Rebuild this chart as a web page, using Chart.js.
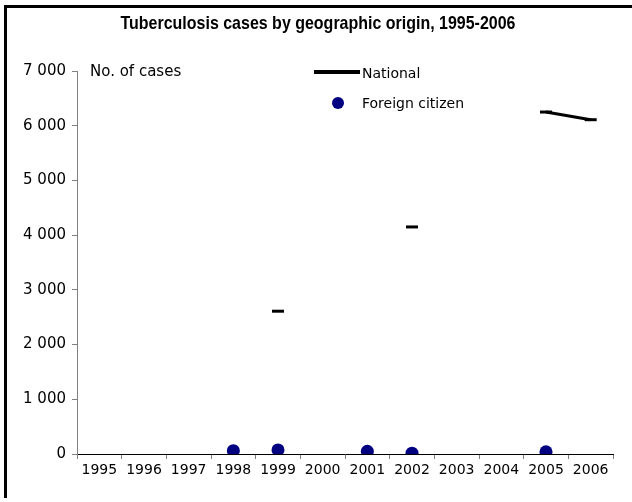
<!DOCTYPE html>
<html>
<head>
<meta charset="utf-8">
<script src="https://cdn.jsdelivr.net/npm/chart.js@4/dist/chart.umd.min.js"></script>
<style>
  html, body { margin: 0; padding: 0; background: #fff; }
  #wrap { width: 632px; height: 502px; }
</style>
</head>
<body>
<div id="wrap"><canvas id="tbChart" width="632" height="502"></canvas></div>
<script>
// data
const years = ['1995', '1996', '1997', '1998', '1999', '2000', '2001', '2002', '2003', '2004', '2005', '2006'];
const nationalCases = [null, null, null, null, 2610, null, null, 4150, null, null, 6250, 6110];
const foreignCases = [null, null, null, 60, 75, null, 50, 15, null, null, 40, null];
const yTicks = [0, 1000, 2000, 3000, 4000, 5000, 6000, 7000];
const titleText = 'Tuberculosis cases by geographic origin, 1995-2006';

const FONT = "'DejaVu Sans', sans-serif";

// format 7000 -> "7 000"
function spaced(v) {
    return String(v).replace(/\B(?=(\d{3})+(?!\d))/g, ' ');
}

// frame, title, axis caption and the in-plot legend
const extrasPlugin = {
    id: 'extras',
    beforeDraw(chart) {
        const ctx = chart.ctx;
        ctx.save();
        ctx.fillStyle = '#fff';
        ctx.fillRect(0, 0, chart.width, chart.height);
        ctx.restore();
    },
    afterDraw(chart) {
        const ctx = chart.ctx;
        ctx.save();
        // black frame, top and left only
        ctx.fillStyle = '#000';
        ctx.fillRect(4, 5, chart.width - 4, 3);
        ctx.fillRect(4, 5, 3, 493);

        // title, condensed like the original
        ctx.font = "bold 19px 'Liberation Sans', sans-serif";
        ctx.textAlign = 'center';
        ctx.textBaseline = 'middle';
        const w = ctx.measureText(titleText).width;
        const sx = Math.min(1, 395 / w);
        ctx.save();
        ctx.translate(318, 24);
        ctx.scale(sx, 1);
        ctx.fillText(titleText, 0, 0);
        ctx.restore();

        // axis caption
        ctx.font = '15px ' + FONT;
        ctx.textAlign = 'left';
        ctx.fillText('No. of cases', 90, 72);

        // legend
        const ds = chart.data.datasets;
        ctx.font = '14px ' + FONT;
        ctx.strokeStyle = ds[0].borderColor;
        ctx.lineWidth = 4;
        ctx.beginPath();
        ctx.moveTo(314, 72);
        ctx.lineTo(360, 72);
        ctx.stroke();
        ctx.fillStyle = '#000';
        ctx.fillText(ds[0].label, 362, 74);

        ctx.fillStyle = ds[1].backgroundColor;
        ctx.beginPath();
        ctx.arc(338, 103, 6, 0, Math.PI * 2);
        ctx.fill();
        ctx.fillStyle = '#000';
        ctx.fillText(ds[1].label, 362, 104);
        ctx.restore();
    }
};

const ctx = document.getElementById('tbChart').getContext('2d');
const tbChart = new Chart(ctx, {
    type: 'line',
    data: {
        labels: years,
        datasets: [{
            label: 'National',
            data: nationalCases,
            borderColor: '#000',
            backgroundColor: '#000',
            borderWidth: 3,
            pointStyle: 'line',
            pointRadius: 6,
            pointBorderWidth: 3,
            pointHoverRadius: 6,
            spanGaps: false,
            tension: 0
        }, {
            label: 'Foreign citizen',
            data: foreignCases,
            showLine: false,
            borderColor: '#000080',
            backgroundColor: '#000080',
            pointStyle: 'circle',
            pointRadius: 6.5,
            pointHoverRadius: 6.5,
            pointBorderWidth: 0
        }]
    },
    options: {
        responsive: false,
        animation: false,
        layout: {
            padding: { top: 71, left: 0, right: 19, bottom: 0 }
        },
        plugins: {
            legend: { display: false },
            tooltip: { enabled: false },
            title: { display: false }
        },
        scales: {
            x: {
                offset: true,
                grid: {
                    display: true,
                    offset: true,
                    drawOnChartArea: false,
                    drawTicks: true,
                    tickLength: 5,
                    color: '#808080'
                },
                border: { display: true, color: '#000', width: 1 },
                ticks: {
                    color: '#000',
                    padding: 3,
                    maxRotation: 0,
                    autoSkip: false,
                    font: { family: FONT, size: 14 }
                },
                afterFit(scale) { scale.height = 48; }
            },
            y: {
                min: 0,
                max: 7000,
                afterBuildTicks(scale) {
                    scale.ticks = yTicks.map(v => ({ value: v }));
                },
                grid: {
                    display: true,
                    drawOnChartArea: false,
                    drawTicks: true,
                    tickLength: 5,
                    color: '#808080'
                },
                border: { display: true, color: '#808080', width: 1 },
                ticks: {
                    color: '#000',
                    padding: 6,
                    font: { family: FONT, size: 15 },
                    callback: v => spaced(v)
                },
                afterFit(scale) { scale.width = 77; }
            }
        }
    },
    plugins: [extrasPlugin]
});
</script>
</body>
</html>
